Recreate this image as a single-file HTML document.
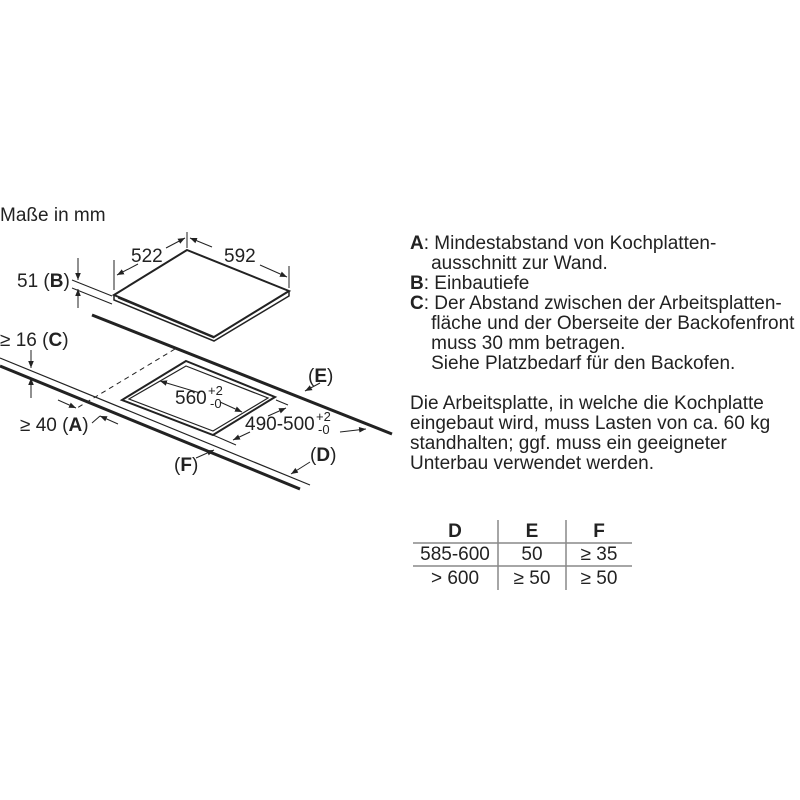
<!DOCTYPE html>
<html><head><meta charset="utf-8"><style>
body{margin:0;background:#fff;width:800px;height:800px;overflow:hidden;font-family:"Liberation Sans",sans-serif;color:#222}
svg{position:absolute;left:0;top:0}
.t{position:absolute;font-size:19px;line-height:20px;white-space:nowrap}
</style></head><body>
<svg width="800" height="800" viewBox="0 0 800 800" font-family="Liberation Sans, sans-serif" fill="#222">
<defs><marker id="a" viewBox="0 0 10 10" refX="10" refY="5" markerWidth="7" markerHeight="7" orient="auto-start-reverse"><path d="M0,1L10,5L0,9z" fill="#222"/></marker></defs>
<g stroke="#222" fill="none">
<path d="M187,250 L289,291 L214,337 L114,295 Z" stroke-width="2" fill="#fff"/>
<path d="M114,295 L114,300 L214,341 L289,296 L289,291" stroke-width="1.5"/>
<path d="M118,298 L214,338" stroke-width="1"/>
<line x1="92" y1="315" x2="392" y2="434" stroke-width="3"/>
<line x1="0" y1="358" x2="310" y2="485" stroke-width="1.2"/>
<line x1="0" y1="366" x2="300" y2="489" stroke-width="3"/>
<line x1="175" y1="349" x2="77" y2="408" stroke-width="1" stroke-dasharray="5,4"/>
<path d="M186,361 L275,397 L213,435 L122,400 Z" stroke-width="2"/>
<path d="M186,366 L268,398 L213,431 L129,399 Z" stroke-width="1.2"/>
<line x1="187" y1="232" x2="187" y2="248" stroke-width="1"/>
<line x1="114" y1="260" x2="114" y2="290" stroke-width="1"/>
<line x1="289" y1="266" x2="289" y2="288" stroke-width="1"/>
<line x1="138" y1="264" x2="117" y2="275" stroke-width="1" marker-end="url(#a)"/>
<line x1="166" y1="248" x2="185" y2="238" stroke-width="1" marker-end="url(#a)"/>
<line x1="212" y1="247" x2="190" y2="238" stroke-width="1" marker-end="url(#a)"/>
<line x1="260" y1="265" x2="287" y2="277" stroke-width="1" marker-end="url(#a)"/>
<line x1="72" y1="280" x2="112" y2="296" stroke-width="1"/>
<line x1="72" y1="288" x2="112" y2="304" stroke-width="1"/>
<line x1="78" y1="258" x2="78" y2="280" stroke-width="1" marker-end="url(#a)"/>
<line x1="78" y1="308" x2="78" y2="289" stroke-width="1" marker-end="url(#a)"/>
<line x1="31" y1="350" x2="31" y2="368" stroke-width="1" marker-end="url(#a)"/>
<line x1="31" y1="398" x2="31" y2="378" stroke-width="1" marker-end="url(#a)"/>
<line x1="58" y1="400" x2="76" y2="408" stroke-width="1" marker-end="url(#a)"/>
<line x1="118" y1="424" x2="100" y2="416" stroke-width="1" marker-end="url(#a)"/>
<line x1="100" y1="416" x2="92" y2="423" stroke-width="1"/>
<line x1="160" y1="381" x2="200" y2="393" stroke-width="1" marker-start="url(#a)"/>
<line x1="220" y1="402" x2="242" y2="412" stroke-width="1" marker-end="url(#a)"/>
<line x1="276" y1="400" x2="288" y2="405" stroke-width="1"/>
<line x1="213" y1="435" x2="236" y2="445" stroke-width="1"/>
<line x1="268" y1="416" x2="286" y2="408" stroke-width="1" marker-end="url(#a)"/>
<line x1="250" y1="432" x2="233" y2="440" stroke-width="1" marker-end="url(#a)"/>
<line x1="320" y1="383" x2="305" y2="391" stroke-width="1" marker-end="url(#a)"/>
<line x1="196" y1="458" x2="214" y2="450" stroke-width="1" marker-end="url(#a)"/>
<line x1="340" y1="432" x2="366" y2="429" stroke-width="1" marker-end="url(#a)"/>
<line x1="310" y1="462" x2="291" y2="474" stroke-width="1" marker-end="url(#a)"/>
<line x1="413" y1="543" x2="632" y2="543" stroke="#888" stroke-width="1.5"/>
<line x1="413" y1="566" x2="632" y2="566" stroke="#888" stroke-width="1.5"/>
<line x1="498" y1="520" x2="498" y2="590" stroke="#888" stroke-width="1.5"/>
<line x1="566" y1="520" x2="566" y2="590" stroke="#888" stroke-width="1.5"/>
</g>
<g font-size="19">
<text x="0" y="221">Maße in mm</text>
<text x="131" y="262">522</text>
<text x="224" y="262">592</text>
<text x="17" y="287">51 (<tspan font-weight="bold">B</tspan>)</text>
<text x="0" y="346">≥ 16 (<tspan font-weight="bold">C</tspan>)</text>
<text x="20" y="431">≥ 40 (<tspan font-weight="bold">A</tspan>)</text>
<text x="175" y="404">560</text><text x="208" y="395" font-size="13">+2</text><text x="210" y="408" font-size="13">-0</text>
<text x="245" y="430">490-500</text><text x="316" y="421" font-size="13">+2</text><text x="318" y="434" font-size="13">-0</text>
<text x="308" y="382">(<tspan font-weight="bold">E</tspan>)</text>
<text x="310" y="461">(<tspan font-weight="bold">D</tspan>)</text>
<text x="174" y="471">(<tspan font-weight="bold">F</tspan>)</text>
<text x="455" y="537" text-anchor="middle" font-weight="bold">D</text>
<text x="532" y="537" text-anchor="middle" font-weight="bold">E</text>
<text x="599" y="537" text-anchor="middle" font-weight="bold">F</text>
<text x="455" y="560" text-anchor="middle">585-600</text>
<text x="532" y="560" text-anchor="middle">50</text>
<text x="599" y="560" text-anchor="middle">≥ 35</text>
<text x="455" y="584" text-anchor="middle">&gt; 600</text>
<text x="532" y="584" text-anchor="middle">≥ 50</text>
<text x="599" y="584" text-anchor="middle">≥ 50</text>
</g>
</svg>
<div class="t" style="left:410px;top:234px"><b>A</b>: Mindestabstand von Kochplatten-<br>&nbsp;&nbsp;&nbsp;&nbsp;ausschnitt zur Wand.<br><b>B</b>: Einbautiefe<br><b>C</b>: Der Abstand zwischen der Arbeitsplatten-<br>&nbsp;&nbsp;&nbsp;&nbsp;fläche und der Oberseite der Backofenfront<br>&nbsp;&nbsp;&nbsp;&nbsp;muss 30 mm betragen.<br>&nbsp;&nbsp;&nbsp;&nbsp;Siehe Platzbedarf für den Backofen.<br><br>Die Arbeitsplatte, in welche die Kochplatte<br>eingebaut wird, muss Lasten von ca. 60 kg<br>standhalten; ggf. muss ein geeigneter<br>Unterbau verwendet werden.</div>
</body></html>
